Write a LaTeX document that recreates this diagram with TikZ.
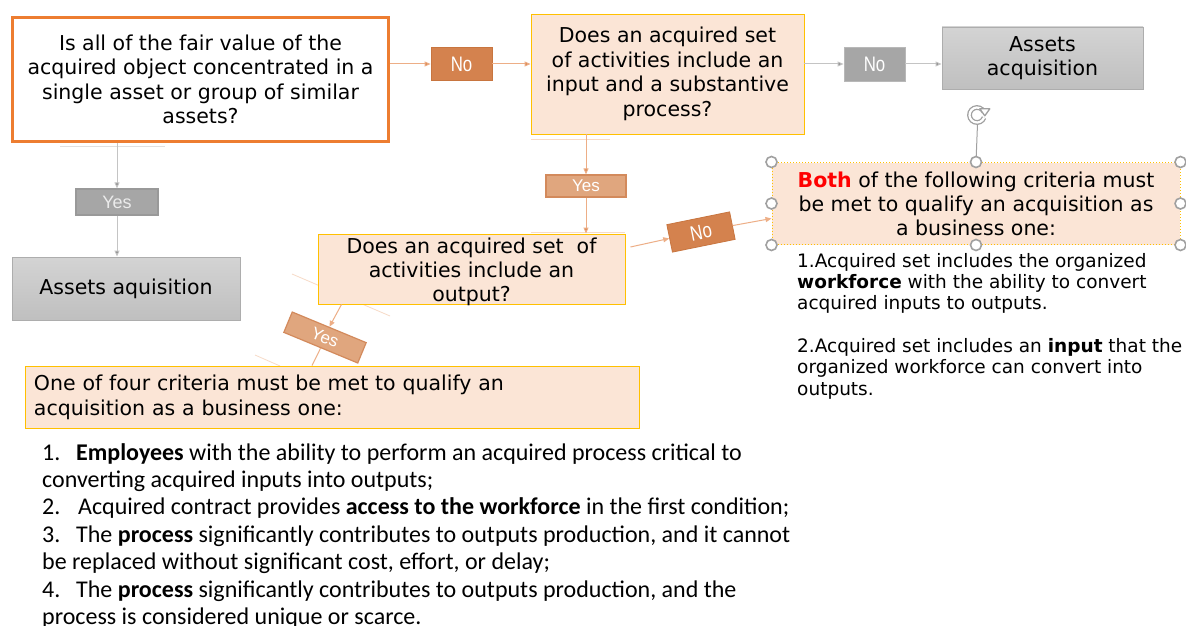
\documentclass[tikz,border=0pt]{standalone}
\usepackage{fontspec}
\setmainfont{DejaVu Sans}
\newfontfamily\calfont{Carlito}
\newfontfamily\arialfont{Liberation Sans}
\newfontfamily\narrowfont[FakeStretch=0.8]{Liberation Sans}
\usetikzlibrary{arrows.meta,calc}
\definecolor{orbord}{HTML}{ED7D31}
\definecolor{peach}{HTML}{FBE5D6}
\definecolor{gold}{HTML}{FFC000}
\definecolor{nofill}{HTML}{D4824E}
\definecolor{nobord}{HTML}{C8753F}
\definecolor{yesfill}{HTML}{E0A67E}
\definecolor{yesbord}{HTML}{D38A5C}
\definecolor{orline}{HTML}{EDAE86}
\definecolor{grline}{HTML}{C4C4C4}
\definecolor{grfill}{HTML}{A6A6A6}
\definecolor{grbord}{HTML}{999999}
\definecolor{hdl}{HTML}{A0A0A0}
\tikzset{
  box/.style={draw=gold, fill=peach, line width=0.9pt, inner sep=2pt, align=center},
  grbox/.style={draw=grbord!80, top color=black!17, bottom color=black!25, line width=0.9pt, align=center},
  nolab/.style={fill=nofill, draw=nobord, line width=0.8pt, text=white, font=\narrowfont\fontsize{21}{22}\selectfont, inner sep=0pt},
  yeslab/.style={fill=yesfill, draw=yesbord, line width=1.2pt, text=white, font=\arialfont\fontsize{17}{18}\selectfont, inner sep=0pt},
  gryes/.style={fill=grfill, draw=grbord, line width=1.2pt, text=black!8, font=\arialfont\fontsize{18}{19}\selectfont, inner sep=0pt},
  ocon/.style={draw=orline, line width=1pt, -{Triangle[length=6pt,width=5pt]}},
  oconA/.style={draw=orline, line width=1pt, -{Triangle[length=6pt,width=5pt,fill=nofill]}},
  gcon/.style={draw=grline, line width=1pt, -{Triangle[length=6pt,width=5pt,fill=gray]}},
  handle/.style={circle, draw=hdl, fill=white, line width=1.6pt, minimum size=11pt, inner sep=0pt},
  faint/.style={line width=0.8pt},
  big/.style={font=\fontsize{20.5}{24.5}\selectfont},
}
\begin{document}
\begin{tikzpicture}[x=1pt,y=-1pt]
\useasboundingbox (0,0) rectangle (1186,626);
\fill[white] (0,0) rectangle (1186,626);

% faint artifact lines
\draw[faint, black!12] (60,146) -- (165,146);
\draw[faint, orline!45] (531,139) -- (610,139);
\draw[faint, orline!45] (531,232) -- (625,232);
\draw[faint, orline!45] (292,274) -- (390,316);
\draw[faint, orline!45] (255,355) -- (280,366);

% main boxes
\node[draw=orbord, fill=white, line width=3pt, minimum width=376pt, minimum height=124pt, align=center, inner sep=0pt, big] (A) at (200.5,79.5)
  {Is all of the fair value of the\\acquired object concentrated in a\\single asset or group of similar\\assets?};

\node[box, minimum width=273pt, minimum height=120pt, inner sep=0pt, big] (B) at (667.5,74)
  {Does an acquired set\\of activities include an\\input and a substantive\\process?};

\node[grbox, minimum width=201pt, minimum height=62pt, big] (C) at (1042.5,58)
  {Assets\\acquisition};

\node[draw=gold, dotted, fill=peach, line width=1pt, minimum width=408pt, minimum height=82pt, align=center, inner sep=0pt,
      font=\fontsize{20.5}{24}\selectfont] (D) at (976,203.5)
  {\textcolor{red}{\bfseries Both} of the following criteria must\\be met to qualify an acquisition as\\a business one:};

\node[draw=gold, fill=peach, line width=0.9pt, minimum width=307pt, minimum height=70pt, inner sep=0pt] (E) at (471.5,269) {};
\node[align=center, inner sep=0pt, font=\fontsize{20.5}{24}\selectfont] (Et) at (471.5,272)
  {Does an acquired set\ \ of\\activities include an\\output?};

\node[box, minimum width=614pt, minimum height=62pt, anchor=center, font=\fontsize{20.5}{25}\selectfont, align=left, text width=596pt] (F) at (332,397)
  {One of four criteria must be met to qualify an\\acquisition as a business one:};

\node[grbox, minimum width=228pt, minimum height=63pt, font=\fontsize{20.5}{24}\selectfont] (G) at (126,288.5)
  {Assets aquisition};

% labels
\node[nolab, minimum width=61pt, minimum height=33pt] (No1) at (461.5,64) {No};
\node[nolab, fill=grfill, draw=grbord!70, minimum width=61pt, minimum height=34pt] (No2) at (874.5,64) {No};
\node[nolab, rotate=11.5, minimum width=64pt, minimum height=28pt] (No3) at (701,232) {No};
\node[yeslab, minimum width=80pt, minimum height=22pt] (Yes1) at (586,186) {Yes};
\node[yeslab, rotate=-22.5, minimum width=80pt, minimum height=22pt] (Yes2) at (325,337.5) {Yes};
\node[gryes, minimum width=82pt, minimum height=26pt] (Yes3) at (117,202) {Yes};

% connectors
\draw[oconA] (No1.west -| A.east) -- (No1.west);
\draw[oconA] (No1.east) -- (No1.east -| B.west);
\draw[gcon] (No2.west -| B.east) -- (No2.west);
\draw[gcon] (No2.east) -- (No2.east -| C.west);
\draw[oconA] (Yes1.north |- B.south) -- (Yes1.north);
\draw[oconA] (Yes1.south) -- (Yes1.south |- E.north);
\draw[ocon] ([shift={(5,-22)}]E.east) -- (No3.west);
\draw[ocon] (No3.east) -- ([shift={(0,15)}]D.west);
\draw[ocon] ([shift={(-130,0)}]E.south) -- (Yes2.north);
\draw[draw=orline, line width=1pt] (Yes2.south) -- ([shift={(-20,0)}]F.north);
\draw[gcon] (Yes3.north |- A.south) -- (Yes3.north);
\draw[gcon] (Yes3.south) -- (Yes3.south |- G.north);

% selection handles and rotate icon
\coordinate (rot) at (977,115);
\draw[hdl, line width=1pt] (D.north) -- ([shift={(0.5,9)}]rot);
\draw[hdl, line width=1.3pt, double=white, double distance=2.2pt] ([shift={(20:7.5)}]rot) arc[start angle=20, end angle=335, radius=7.5];
\draw[hdl, line width=1.3pt, fill=white, line join=round] ($(rot)+(335:7.5)+(-4,-3)$) -- ++(10,0) -- ++(-5,7) -- cycle;
\foreach \a in {north west,north,north east,west,east,south west,south,south east}
  \node[handle] at (D.\a) {};

% right text
\node[anchor=north west, align=left, inner sep=0pt, font=\fontsize{18.5}{21.3}\selectfont] (R) at (797,253)
  {1.Acquired set includes the organized\\\textbf{workforce} with the ability to convert\\acquired inputs to outputs.\\[21.3pt]
   2.Acquired set includes an \textbf{input} that the\\organized workforce can convert into\\outputs.};

% bottom list
\node[anchor=north west, align=left, inner sep=0pt, font=\calfont\fontsize{24}{27.4}\selectfont] (L) at (42,443)
  {\makebox[34pt][l]{1.}\textbf{Employees} with the ability to perform an acquired process critical to\\
   converting acquired inputs into outputs;\\
   \makebox[36pt][l]{2.}Acquired contract provides \textbf{access to the workforce} in the first condition;\\
   \makebox[34pt][l]{3.}The \textbf{process} significantly contributes to outputs production, and it cannot\\
   be replaced without significant cost, effort, or delay;\\
   \makebox[34pt][l]{4.}The \textbf{process} significantly contributes to outputs production, and the\\
   process is considered unique or scarce.};
\end{tikzpicture}
\end{document}
